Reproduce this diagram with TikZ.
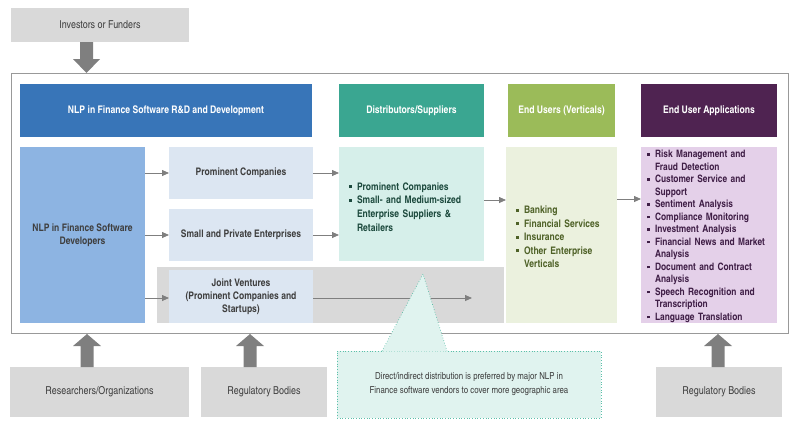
\documentclass[tikz,border=0pt]{standalone}
\usepackage{fontspec}
\setmainfont{texgyreheroscn}[Extension=.otf, UprightFont=*-regular, BoldFont=*-bold, ItalicFont=*-italic, BoldItalicFont=*-bolditalic]
\usepackage{enumitem}
\usetikzlibrary{arrows.meta}
\definecolor{gbox}{HTML}{D9D9D9}
\definecolor{garrow}{HTML}{7F7F7F}
\definecolor{gframe}{HTML}{999999}
\definecolor{hblue}{RGB}{56,117,184}
\definecolor{devblue}{HTML}{8DB4E2}
\definecolor{lblue}{HTML}{DCE6F2}
\definecolor{hteal}{RGB}{58,166,145}
\definecolor{lteal}{HTML}{D6EFEA}
\definecolor{hgreen}{HTML}{9BBB59}
\definecolor{lgreen}{HTML}{EBF1DE}
\definecolor{hpurple}{HTML}{4F2351}
\definecolor{lpurple}{HTML}{E4D0E9}
\definecolor{cfill}{HTML}{E0F3EF}
\definecolor{cborder}{HTML}{5BBFA9}
\definecolor{tdark}{HTML}{3F3F3F}
\definecolor{tteal}{HTML}{1D4A3E}
\definecolor{tgreen}{HTML}{4F6228}
\definecolor{tpurple}{HTML}{3F1E46}
\newcommand{\sqb}{\rule[2pt]{2.8pt}{2.8pt}}
\newenvironment{blist}{\begin{itemize}[leftmargin=8pt,labelsep=5pt,label=\sqb,itemsep=0pt,topsep=0pt,parsep=0pt,partopsep=0pt]}{\end{itemize}}
\begin{document}
\begin{tikzpicture}[x=1pt,y=-1pt,
  base/.style={inner sep=0pt, outer sep=0pt, align=center, font=\fontsize{10.9}{13}\selectfont},
  graybox/.style={base, fill=gbox, text=tdark},
  hdr/.style={base, text=white, font=\fontsize{10.5}{13}\selectfont\bfseries, minimum height=53},
  sub/.style={base, fill=lblue, text=tdark, font=\fontsize{10.4}{13.2}\selectfont\bfseries, minimum width=144, minimum height=52},
  flow/.style={draw=garrow, line width=0.8pt, -{Triangle[length=7pt,width=6pt]}},
  blockarrow/.style={fill=garrow, draw=none}
]
\useasboundingbox (0,0) rectangle (800,423);
% top
\node[graybox, minimum width=178, minimum height=34] (inv) at (100,25) {Investors or Funders};
\draw[draw=gframe, line width=0.9pt] (11,73) rectangle (788,333);
% headers
\node[hdr, fill=hblue, minimum width=292] (h1) at (166,110.5) {NLP in Finance Software R\&D and Development};
\node[hdr, fill=hteal, minimum width=145] (h2) at (411.5,110.5) {Distributors/Suppliers};
\node[hdr, fill=hgreen, minimum width=107] (h3) at (561.5,110.5) {End Users (Verticals)};
\node[hdr, fill=hpurple, minimum width=136] (h4) at (709,110.5) {End User Applications};
% band
\fill[gbox] (157,267) rectangle (504,323);
% content
\node[base, fill=devblue, text=tdark, font=\fontsize{10.4}{13.2}\selectfont\bfseries, minimum width=125, minimum height=176] (dev) at (82.5,235) {NLP in Finance Software\\Developers};
\node[sub] (pc) at (241,173) {Prominent Companies};
\node[sub] (spe) at (241,235) {Small and Private Enterprises};
\node[sub, minimum height=53] (jv) at (241,296.5) {Joint Ventures\\(Prominent Companies and\\Startups)};
\node[base, fill=lteal, minimum width=145, minimum height=114] (dist) at (411.5,204) {};
\node[base, text=tteal, text width=120, align=left, font=\fontsize{10.4}{13.8}\selectfont\bfseries] (distt) at (409,204) {\begin{blist}\item Prominent Companies\item Small- and Medium-sized Enterprise Suppliers \& Retailers\end{blist}};
\node[base, fill=lgreen, minimum width=111, minimum height=176] (eu) at (561.5,235) {};
\node[base, text=tgreen, text width=92, align=left, font=\fontsize{10.4}{13.5}\selectfont\bfseries] (eut) at (562,234) {\begin{blist}\item Banking\item Financial Services\item Insurance\item Other Enterprise Verticals\end{blist}};
\node[base, fill=lpurple, minimum width=136, minimum height=176] (app) at (709,235) {};
\node[base, text=tpurple, text width=123, align=left, font=\fontsize{10.2}{12.5}\selectfont\bfseries] (appt) at (708.5,234) {\begin{blist}\item Risk Management and Fraud Detection\item Customer Service and Support\item Sentiment Analysis\item Compliance Monitoring\item Investment Analysis\item Financial News and Market Analysis\item Document and Contract Analysis\item Speech Recognition and Transcription\item Language Translation\end{blist}};
% connectors
\draw[flow] (dev.east |- pc) -- (pc.west);
\draw[flow] (dev.east |- spe) -- (spe.west);
\draw[flow] (dev.east |- 0,298) -- (jv.west |- 0,298);
\draw[flow] (pc.east) -- (dist.west |- pc);
\draw[flow] (spe.east) -- (dist.west |- spe);
\coordinate (jvend) at (472,298);
\draw[flow] (jv.east |- jvend) -- (jvend);
\draw[flow] (dist.east |- 0,200) -- (eu.west |- 0,200);
\draw[flow] (eu.east |- 0,199) -- (app.west |- 0,199);
% callout
\node[base, fill=cfill, draw=cborder, dotted, line width=0.7pt, minimum width=264, minimum height=67, text=tdark, font=\fontsize{9.6}{14}\selectfont] (call) at (469,384.5) {Direct/indirect distribution is preferred by major NLP in\\Finance software vendors to cover more geographic area};
\coordinate (ctip) at (423,274);
\fill[cfill] (382,351.6) -- (ctip) -- (447,351.6) -- cycle;
\draw[cborder, dotted, line width=0.7pt] (382,351) -- (ctip) -- (447,351);
% bottom boxes
\node[graybox, minimum width=179, minimum height=50] (res) at (99.5,392) {Researchers/Organizations};
\node[graybox, minimum width=126, minimum height=50] (reg1) at (264,392) {Regulatory Bodies};
\node[graybox, minimum width=126, minimum height=50] (reg2) at (719,392) {Regulatory Bodies};
% block arrows
\fill[blockarrow] (80,42) -- (93,42) -- (93,59) -- (100,59) -- (86.5,73) -- (73,59) -- (80,59) -- cycle;
\foreach \cx in {87,250,718}{
  \fill[blockarrow] (\cx-6.5,367) -- (\cx+6.5,367) -- (\cx+6.5,346) -- (\cx+14,346) -- (\cx,334) -- (\cx-14,346) -- (\cx-6.5,346) -- cycle;
}
\end{tikzpicture}
\end{document}
